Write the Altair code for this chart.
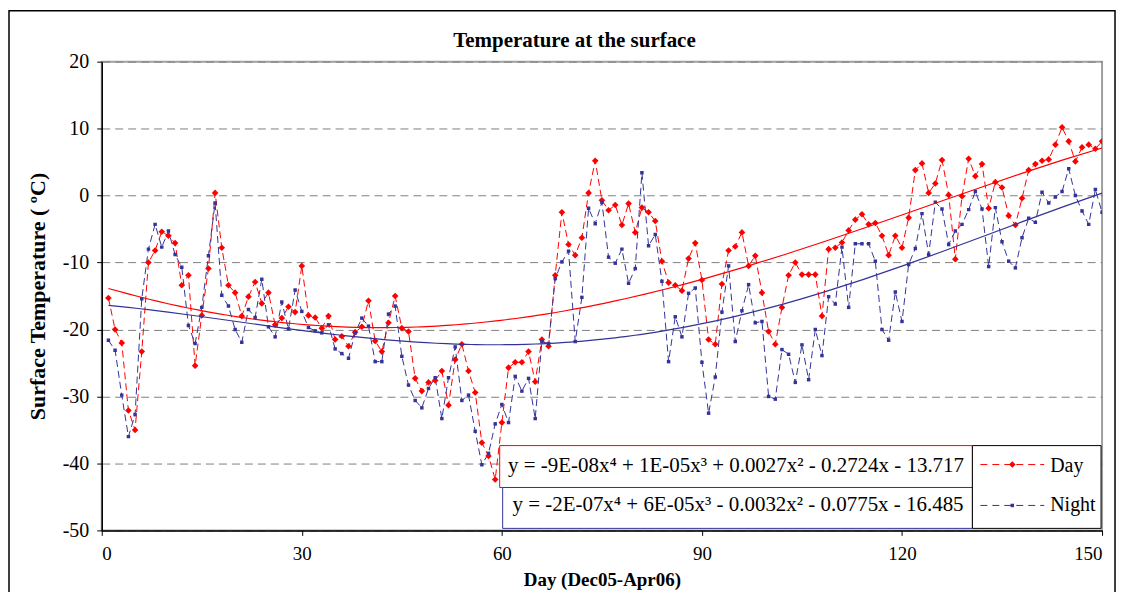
import altair as alt
import pandas as pd

# ---------------- data ----------------
days = list(range(1, 151))

day_temp = [
    -15.3, -20.0, -22.0, -32.1, -35.0, -23.3, -10.0, -8.2, -5.4, -6.0,
    -7.1, -13.4, -11.9, -25.4, -17.9, -10.9, 0.4, -7.8, -13.4, -14.5,
    -18.0, -15.1, -12.9, -16.1, -14.5, -19.3, -18.3, -16.6, -17.4, -10.5,
    -17.9, -18.2, -19.8, -18.0, -21.5, -21.0, -22.5, -20.4, -19.6, -15.7,
    -21.7, -23.3, -19.0, -15.0, -19.8, -20.3, -27.3, -29.2, -27.9, -27.6,
    -26.2, -31.3, -24.5, -22.2, -26.2, -29.4, -36.9, -38.9, -42.4, -33.9,
    -25.7, -24.9, -24.9, -23.3, -27.8, -21.5, -22.5, -11.9, -2.5, -7.3,
    -8.9, -6.3, 0.4, 5.2, -0.7, -2.2, -1.4, -4.4, -1.2, -5.5,
    -1.8, -2.5, -3.8, -9.8, -13.0, -13.4, -14.2, -9.4, -7.1, -12.6,
    -21.5, -22.2, -13.2, -8.2, -7.6, -5.5, -10.5, -9.0, -14.5, -20.3,
    -22.2, -16.7, -11.9, -10.0, -11.8, -11.8, -11.8, -18.0, -8.0, -7.8,
    -7.0, -5.2, -3.6, -2.8, -4.3, -4.1, -6.0, -8.9, -6.0, -7.8,
    -3.3, 3.8, 4.8, 0.4, 1.8, 5.3, 0.1, -9.5, -0.1, 5.5,
    2.9, 4.7, -1.9, 2.0, 1.2, -3.0, -4.4, -0.4, 3.8, 4.7,
    5.2, 5.4, 7.6, 10.2, 8.1, 5.1, 7.2, 7.6, 7.0, 8.1,
]

night_temp = [
    -21.6, -23.1, -29.8, -36.0, -32.7, -15.4, -8.0, -4.3, -7.7, -5.3,
    -8.8, -10.7, -19.4, -22.1, -16.7, -9.0, -1.1, -14.9, -16.5, -20.0,
    -21.9, -17.0, -18.2, -12.5, -19.6, -21.1, -15.9, -19.9, -14.1, -17.3,
    -19.7, -20.2, -20.5, -19.3, -22.9, -23.6, -24.3, -20.5, -18.3, -19.5,
    -24.8, -24.8, -17.7, -16.5, -24.0, -28.3, -30.6, -31.7, -28.8, -27.2,
    -33.3, -27.2, -22.6, -30.6, -29.8, -35.2, -40.2, -38.5, -34.1, -31.2,
    -33.9, -27.0, -29.2, -27.3, -33.3, -21.8, -22.1, -12.4, -9.9, -8.3,
    -21.8, -15.2, -1.9, -4.2, -1.0, -9.2, -10.1, -8.0, -13.1, -10.9,
    3.4, -7.5, -5.8, -12.8, -24.8, -18.1, -21.1, -14.6, -13.8, -24.9,
    -32.5, -27.1, -17.4, -10.5, -21.8, -17.2, -13.3, -19.0, -18.8, -30.0,
    -30.4, -23.0, -23.7, -27.9, -22.3, -27.5, -20.0, -23.9, -15.1, -16.2,
    -7.7, -16.7, -7.2, -7.2, -7.2, -9.8, -20.0, -21.6, -14.4, -18.8,
    -10.3, -7.9, -2.7, -8.8, -1.0, -2.0, -7.3, -5.3, -4.3, -2.1,
    0.6, -2.0, -10.6, -1.8, -6.9, -9.8, -10.8, -6.3, -3.4, -4.0,
    0.5, -1.1, -0.2, 0.6, 4.0, 0.0, -2.3, -4.3, 0.9, -2.5,
]

series_names = ["Day", "Night"]
equations = [
    "y = -9E-08x\u2074 + 1E-05x\u00b3 + 0.0027x\u00b2 - 0.2724x - 13.717",
    "y = -2E-07x\u2074 + 6E-05x\u00b3 - 0.0032x\u00b2 - 0.0775x - 16.485",
]
x_ticks = [0, 30, 60, 90, 120, 150]
y_ticks = [20, 10, 0, -10, -20, -30, -40, -50]
chart_title = "Temperature at the surface"
x_title = "Day (Dec05-Apr06)"
y_title = "Surface Temperature (  \u00baC)"

# ---------------- build ----------------
df = pd.DataFrame({
    "day": days * 2,
    "temp": day_temp + night_temp,
    "series": [series_names[0]] * len(days) + [series_names[1]] * len(days),
})

FONT = "Liberation Serif"
W, H = 1003, 470
RED = "#FF0000"
BLUE = "#333399"

x_enc = alt.X("day:Q", scale=alt.Scale(domain=[0, 150], nice=False, zero=False),
              axis=alt.Axis(values=x_ticks, title=x_title, grid=False,
                            labelPadding=9, labelFontSize=19,
                            titleY=55, titleBaseline="alphabetic",
                            titleFontSize=19, labelExpr="'' + datum.value"))
y_enc = alt.Y("temp:Q", scale=alt.Scale(domain=[-50, 20], nice=False, zero=False),
              axis=alt.Axis(values=y_ticks, title=y_title, grid=True,
                            gridDash=[8, 5], gridColor="#808080", gridWidth=1,
                            labelPadding=8, labelFontSize=20,
                            titleX=-64, titleY=H / 2,
                            titleAngle=270, titleAlign="center",
                            titleBaseline="middle", titleFontSize=22,
                            labelExpr="'' + datum.value"))
color_enc = alt.Color("series:N", scale=alt.Scale(domain=series_names, range=[RED, BLUE]),
                      legend=None)

base = alt.Chart(df)

lines = base.mark_line(strokeDash=[7, 4], strokeWidth=1, clip=True).encode(
    x=x_enc, y=y_enc, color=color_enc)

points = base.mark_point(filled=True, opacity=1, clip=True).encode(
    x=x_enc, y=y_enc, color=color_enc,
    shape=alt.Shape("series:N", scale=alt.Scale(domain=series_names, range=["diamond", "square"]),
                    legend=None),
    size=alt.Size("series:N", scale=alt.Scale(domain=series_names, range=[44, 12]), legend=None))

trend = base.transform_regression(
    "day", "temp", method="poly", order=4, groupby=["series"]
).mark_line(strokeWidth=1.2, clip=True).encode(
    x=x_enc, y=y_enc,
    color=alt.Color("series:N", scale=alt.Scale(domain=series_names, range=[RED, BLUE]), legend=None))

one = pd.DataFrame({"k": [0]})

outer = alt.Chart(one).mark_rect(fill="white", fillOpacity=0, stroke="black", strokeWidth=1.5).encode(
    x=alt.value(-93), x2=alt.value(1016), y=alt.value(-51), y2=alt.value(560))

title_mark = alt.Chart(pd.DataFrame({"t": [chart_title]})).mark_text(
    font=FONT, fontSize=21, fontWeight="bold", align="center", baseline="middle", color="black"
).encode(text="t:N", x=alt.value(474), y=alt.value(-21))

box_red = alt.Chart(one).mark_rect(fill="white", stroke=RED, strokeWidth=1).encode(
    x=alt.value(399), x2=alt.value(873), y=alt.value(385), y2=alt.value(427))
box_blue = alt.Chart(one).mark_rect(fill="white", stroke=BLUE, strokeWidth=1).encode(
    x=alt.value(402), x2=alt.value(873), y=alt.value(427), y2=alt.value(468))
box_leg = alt.Chart(one).mark_rect(fill="white", stroke="black", strokeWidth=1).encode(
    x=alt.value(873), x2=alt.value(1002), y=alt.value(385), y2=alt.value(468))

eq1 = alt.Chart(pd.DataFrame({"t": [equations[0]]})).mark_text(
    font=FONT, fontSize=21, align="center", baseline="middle", color="black"
).encode(text="t:N", x=alt.value(636), y=alt.value(405))
eq2 = alt.Chart(pd.DataFrame({"t": [equations[1]]})).mark_text(
    font=FONT, fontSize=21, align="center", baseline="middle", color="black"
).encode(text="t:N", x=alt.value(638), y=alt.value(445))

sym_day = alt.Chart(one).mark_rule(color=RED, strokeDash=[7, 5], strokeWidth=1).encode(
    x=alt.value(881), x2=alt.value(945), y=alt.value(404))
dot_day = alt.Chart(one).mark_point(shape="diamond", filled=True, color=RED, size=44, opacity=1).encode(
    x=alt.value(913), y=alt.value(404))
sym_night = alt.Chart(one).mark_rule(color=BLUE, strokeDash=[7, 5], strokeWidth=1).encode(
    x=alt.value(881), x2=alt.value(945), y=alt.value(445))
dot_night = alt.Chart(one).mark_point(shape="square", filled=True, color=BLUE, size=12, opacity=1).encode(
    x=alt.value(913), y=alt.value(445))

lab_day = alt.Chart(pd.DataFrame({"t": [series_names[0]]})).mark_text(
    font=FONT, fontSize=20, align="left", baseline="middle", color="black"
).encode(text="t:N", x=alt.value(951), y=alt.value(405))
lab_night = alt.Chart(pd.DataFrame({"t": [series_names[1]]})).mark_text(
    font=FONT, fontSize=20, align="left", baseline="middle", color="black"
).encode(text="t:N", x=alt.value(951), y=alt.value(445))

chart = alt.layer(
    outer, lines, points, trend,
    box_red, box_blue, box_leg, eq1, eq2,
    sym_day, dot_day, sym_night, dot_night, lab_day, lab_night,
    title_mark,
).properties(
    width=W, height=H,
    padding={"left": 94, "top": 53, "right": 18, "bottom": 61},
    autosize=alt.AutoSizeParams(type="none"),
    background="white",
).configure_view(
    stroke="#A0A0A0", strokeWidth=2
).configure_axis(
    labelFont=FONT, labelColor="black",
    titleFont=FONT, titleFontWeight="bold", titleColor="black",
    domainColor="black", domainWidth=1.5, tickColor="black", tickSize=5, tickWidth=1,
)

chart.save("out.html", embed_options={"renderer": "svg", "actions": False})
